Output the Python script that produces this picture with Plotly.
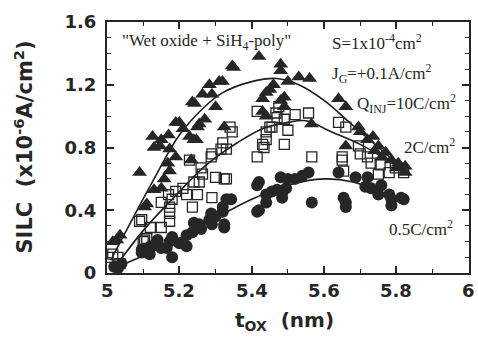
import plotly.graph_objects as go

# ---- data ----
tri_x = [5.016, 5.027, 5.036, 5.09, 5.104, 5.11, 5.126, 5.13, 5.13, 5.146, 5.15, 5.15, 5.158,
         5.168, 5.17, 5.173, 5.173, 5.19, 5.19, 5.20, 5.21, 5.228, 5.233, 5.236, 5.24, 5.242,
         5.247, 5.25, 5.255, 5.264, 5.27, 5.283, 5.29, 5.30, 5.31, 5.319, 5.324, 5.346, 5.35,
         5.42, 5.43, 5.43, 5.44, 5.44, 5.45, 5.46, 5.48, 5.48, 5.48, 5.49, 5.49, 5.50, 5.53,
         5.56, 5.565, 5.64, 5.66, 5.66, 5.695, 5.70, 5.72, 5.735, 5.75, 5.77, 5.786, 5.805,
         5.824, 5.824, 5.80, 5.76, 5.74]
tri_y = [0.20, 0.21, 0.24, 0.64, 0.42, 0.44, 0.87, 0.53, 0.80, 0.81, 0.54, 0.85, 0.60,
         0.70, 0.88, 0.65, 0.79, 0.74, 0.96, 0.96, 0.92, 0.87, 0.72, 1.09, 0.85, 1.08,
         0.85, 0.93, 0.95, 1.14, 0.98, 1.20, 1.14, 1.06, 1.22, 1.22, 0.93, 1.32, 1.31,
         1.38, 1.11, 1.03, 1.00, 1.15, 1.17, 1.20, 1.29, 1.33, 1.10, 1.12, 1.06, 1.22, 1.25,
         1.24, 0.95, 1.11, 1.06, 0.81, 0.93, 0.90, 0.85, 0.87, 0.81, 0.77, 0.72, 0.70,
         0.68, 0.64, 0.67, 0.74, 0.78]

sq_x = [5.003, 5.016, 5.03, 5.036, 5.09, 5.096, 5.10, 5.104, 5.11, 5.12, 5.15, 5.15, 5.17,
        5.173, 5.173, 5.173, 5.18, 5.19, 5.21, 5.22, 5.228, 5.236, 5.24, 5.25, 5.255, 5.26,
        5.264, 5.29, 5.288, 5.29, 5.30, 5.315, 5.32, 5.324, 5.33, 5.33, 5.34, 5.346, 5.415,
        5.415, 5.43, 5.434, 5.44, 5.44, 5.45, 5.456, 5.467, 5.47, 5.475, 5.49, 5.49, 5.50,
        5.52, 5.557, 5.566, 5.64, 5.65, 5.65, 5.654, 5.66, 5.695, 5.70, 5.72, 5.73, 5.75,
        5.755, 5.78, 5.797, 5.82]
sq_y = [0.10, 0.12, 0.10, 0.06, 0.33, 0.34, 0.20, 0.21, 0.22, 0.29, 0.29, 0.45, 0.50,
        0.33, 0.42, 0.38, 0.47, 0.52, 0.54, 0.50, 0.72, 0.42, 0.58, 0.50, 0.58, 0.67,
        0.63, 0.48, 0.74, 0.76, 0.61, 0.79, 0.83, 0.60, 0.60, 0.79, 0.93, 0.90, 0.74,
        1.03, 0.82, 0.80, 0.85, 0.90, 0.93, 0.93, 1.02, 0.99, 1.06, 0.82, 0.98, 0.91,
        1.01, 1.02, 0.74, 0.96, 0.74, 0.72, 0.65, 0.93, 0.81, 0.76, 0.74, 0.70, 0.63,
        0.69, 0.64, 0.67, 0.64]

ci_x = [5.02, 5.03, 5.04, 5.096, 5.096, 5.118, 5.12, 5.137, 5.14, 5.15, 5.165, 5.173, 5.18,
        5.18, 5.20, 5.22, 5.22, 5.236, 5.24, 5.255, 5.26, 5.283, 5.288, 5.29, 5.30, 5.32,
        5.32, 5.324, 5.324, 5.33, 5.343, 5.415, 5.415, 5.42, 5.42, 5.44, 5.44, 5.456, 5.47,
        5.48, 5.484, 5.484, 5.495, 5.50, 5.52, 5.54, 5.557, 5.566, 5.64, 5.654, 5.66, 5.66,
        5.687, 5.714, 5.72, 5.73, 5.75, 5.758, 5.78, 5.786, 5.786, 5.813, 5.82]
ci_y = [0.04, 0.03, 0.06, 0.13, 0.15, 0.12, 0.17, 0.18, 0.21, 0.16, 0.16, 0.20, 0.10,
        0.23, 0.19, 0.24, 0.17, 0.26, 0.32, 0.31, 0.28, 0.34, 0.38, 0.31, 0.36, 0.39,
        0.42, 0.29, 0.31, 0.47, 0.47, 0.56, 0.39, 0.58, 0.40, 0.45, 0.50, 0.52, 0.53,
        0.61, 0.48, 0.51, 0.54, 0.60, 0.60, 0.62, 0.64, 0.45, 0.64, 0.48, 0.45, 0.42,
        0.61, 0.55, 0.61, 0.54, 0.50, 0.56, 0.50, 0.43, 0.47, 0.48, 0.47]

# fitted guide curves
fit_tri_x = [5.01, 5.13, 5.20, 5.27, 5.32, 5.40, 5.47, 5.53, 5.60, 5.67, 5.75, 5.82]
fit_tri_y = [0.08, 0.60, 0.88, 1.06, 1.15, 1.22, 1.24, 1.20, 1.10, 0.96, 0.80, 0.66]
fit_sq_x = [5.02, 5.10, 5.18, 5.27, 5.36, 5.43, 5.50, 5.55, 5.62, 5.70, 5.76, 5.82]
fit_sq_y = [0.03, 0.27, 0.47, 0.68, 0.83, 0.92, 0.96, 0.97, 0.90, 0.82, 0.74, 0.66]
fit_ci_x = [5.02, 5.10, 5.20, 5.30, 5.40, 5.50, 5.60, 5.68, 5.75, 5.82]
fit_ci_y = [0.03, 0.11, 0.22, 0.35, 0.47, 0.56, 0.60, 0.58, 0.52, 0.44]

x_ticks = [5, 5.2, 5.4, 5.6, 5.8, 6]
x_ticklabels = ["5", "5.2", "5.4", "5.6", "5.8", "6"]
y_ticks = [0, 0.4, 0.8, 1.2, 1.6]
y_ticklabels = ["0", "0.4", "0.8", "1.2", "1.6"]

INK = "#262626"
SERIF = "Liberation Serif, Times New Roman, serif"
SANS = "DejaVu Sans, Arial, sans-serif"

fig = go.Figure()

for fx, fy in [(fit_tri_x, fit_tri_y), (fit_sq_x, fit_sq_y), (fit_ci_x, fit_ci_y)]:
    fig.add_trace(go.Scatter(x=fx, y=fy, mode="lines",
                             line=dict(color="#1e1e1e", width=1.6, shape="spline", smoothing=1.0),
                             showlegend=False, hoverinfo="skip"))

fig.add_trace(go.Scatter(x=ci_x, y=ci_y, mode="markers",
                         marker=dict(symbol="circle", size=12, color=INK, line=dict(width=0)),
                         showlegend=False))
fig.add_trace(go.Scatter(x=sq_x, y=sq_y, mode="markers",
                         marker=dict(symbol="square-open", size=10, color=INK, line=dict(width=1.3)),
                         showlegend=False))
fig.add_trace(go.Scatter(x=tri_x, y=tri_y, mode="markers",
                         marker=dict(symbol="triangle-up", size=13, color=INK, line=dict(width=0)),
                         showlegend=False))

axis_common = dict(
    showgrid=False, zeroline=False, showline=True, linecolor=INK, linewidth=2,
    mirror="ticks", ticks="inside", ticklen=7, tickwidth=1.6, tickcolor=INK,
    tickfont=dict(family=SANS, size=18, color=INK, weight="bold"),
)
fig.update_xaxes(range=[5, 6.0005], tickvals=x_ticks, showticklabels=False,
                 minor=dict(ticks="inside", dtick=0.1, tick0=5, ticklen=4, tickwidth=1.3, tickcolor=INK),
                 **axis_common)
fig.update_yaxes(range=[0, 1.6], tickvals=y_ticks, ticktext=y_ticklabels,
                 ticklabelstandoff=5,
                 minor=dict(ticks="inside", dtick=0.1, tick0=0, ticklen=4, tickwidth=1.3, tickcolor=INK),
                 **axis_common)

# x tick labels (placed explicitly so they sit close to the axis like the original)
for v, lab in zip(x_ticks, x_ticklabels):
    fig.add_annotation(xref="x", yref="paper", x=v, y=-0.068, xanchor="center", yanchor="middle",
                       text="<b>%s</b>" % lab, showarrow=False, borderpad=0,
                       font=dict(family=SANS, size=18, color=INK))

ann_font = dict(family=SERIF, size=17, color=INK)
annotations = [
    dict(x=5.035, y=1.47, text="\"Wet oxide + SiH<sub>4</sub>-poly\"", xanchor="left"),
    dict(x=5.615, y=1.47, text="S=1x10<sup>-4</sup>cm<sup>2</sup>", xanchor="left"),
    dict(x=5.615, y=1.27, text="J<sub>G</sub>=+0.1A/cm<sup>2</sup>", xanchor="left"),
    dict(x=5.685, y=1.08, text="Q<sub>INJ</sub>=10C/cm<sup>2</sup>", xanchor="left"),
    dict(x=5.815, y=0.81, text="2C/cm<sup>2</sup>", xanchor="left"),
    dict(x=5.775, y=0.29, text="0.5C/cm<sup>2</sup>", xanchor="left"),
]
for a in annotations:
    fig.add_annotation(xref="x", yref="y", showarrow=False, yanchor="middle",
                       font=ann_font, **a)

# axis titles
fig.add_annotation(xref="paper", yref="paper", x=0.49, y=-0.19, xanchor="center", yanchor="middle",
                   text="<b>t<sub>OX</sub>  (nm)</b>", showarrow=False,
                   font=dict(family=SANS, size=20, color=INK))
fig.add_annotation(xref="paper", yref="paper", x=-0.232, y=0.5, xanchor="center", yanchor="middle",
                   textangle=-90,
                   text="<b>SILC  (x10<sup>-6</sup>A/cm<sup>2</sup>)</b>", showarrow=False,
                   font=dict(family=SANS, size=21, color=INK))

fig.update_layout(
    width=478, height=340,
    margin=dict(l=107, r=7, t=22, b=67),
    paper_bgcolor="white", plot_bgcolor="white",
)

# remove the default page margin so the 478x340 figure fills the window exactly
fig.write_html("out.html", config={"displayModeBar": False},
               post_script="document.body.style.margin='0';")
